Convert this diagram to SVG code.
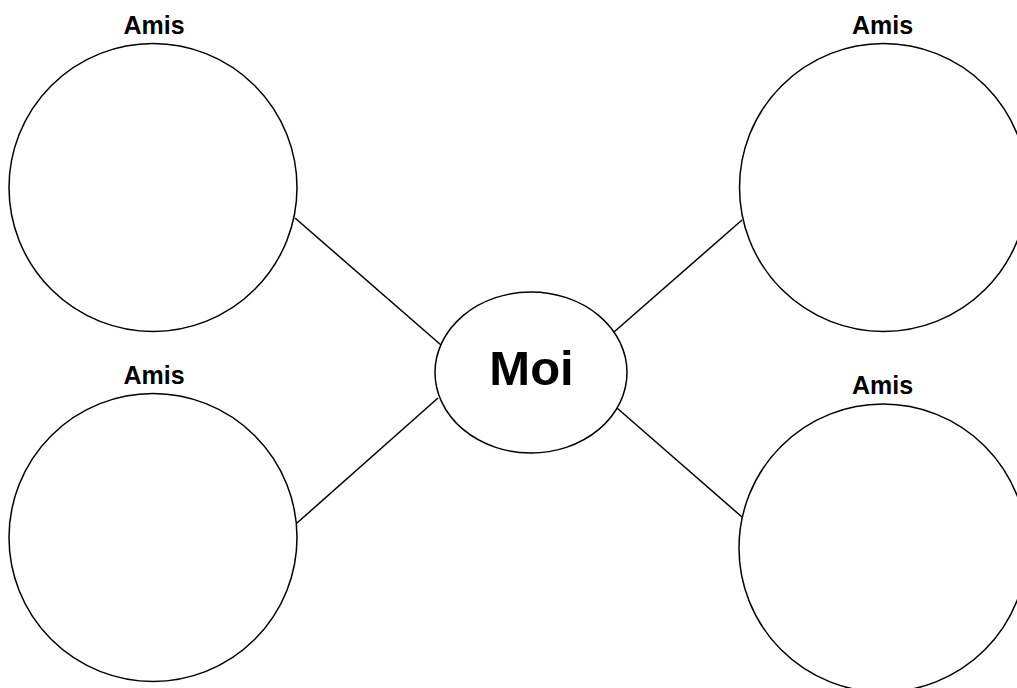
<svg xmlns="http://www.w3.org/2000/svg" width="1017" height="688" viewBox="0 0 1017 688">
<style>
.node{fill:#fff;stroke:#000;stroke-width:1.5}
.lbl{font-family:"Liberation Sans",Arial,sans-serif;font-weight:bold;font-size:25px;text-anchor:middle;fill:#000}
.big{font-size:49px}
.edge{stroke:#000;stroke-width:1.5;fill:none}
</style>
<rect width="1017" height="688" fill="#fff"/>
<g id="connectors">
<line class="edge" x1="295" y1="218" x2="441" y2="345"/>
<line class="edge" x1="297" y1="523" x2="438" y2="398"/>
<line class="edge" x1="614" y1="332" x2="742" y2="220"/>
<line class="edge" x1="617" y1="408" x2="742" y2="517"/>
</g>
<g id="amis-tl">
<circle class="node" cx="153" cy="187.5" r="144"/>
<text class="lbl" x="154" y="34">Amis</text>
</g>
<g id="amis-bl">
<circle class="node" cx="153" cy="537.5" r="144"/>
<text class="lbl" x="154" y="384">Amis</text>
</g>
<g id="amis-tr">
<circle class="node" cx="883.5" cy="187.5" r="144"/>
<text class="lbl" x="882.5" y="34">Amis</text>
</g>
<g id="amis-br">
<circle class="node" cx="883" cy="548" r="144"/>
<text class="lbl" x="882.5" y="394">Amis</text>
</g>
<g id="moi">
<ellipse class="node" cx="531" cy="372.5" rx="96" ry="80.5"/>
<text class="lbl big" x="531.5" y="385">Moi</text>
</g>
</svg>
